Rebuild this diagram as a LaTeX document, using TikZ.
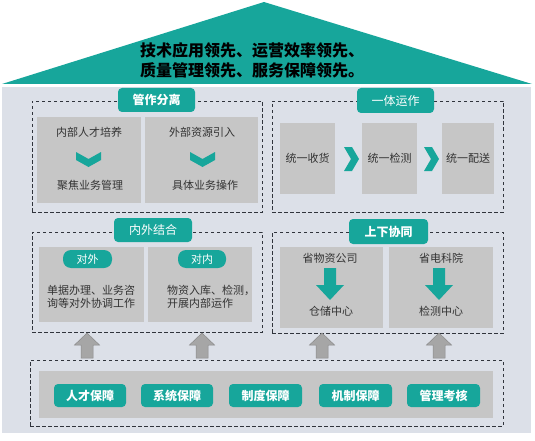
\documentclass[tikz,border=0pt]{standalone}
\usepackage{fontspec}
\setmainfont{Noto Sans CJK SC}
\definecolor{tealc}{HTML}{17A69B}
\definecolor{bodybg}{HTML}{DCE0E8}
\definecolor{boxgray}{HTML}{C6C6C6}
\definecolor{txtgray}{HTML}{333333}
\definecolor{dashc}{HTML}{30343C}
\definecolor{arrgray}{HTML}{A6A6A6}
\definecolor{arrline}{HTML}{8A8A8A}
\tikzset{
  grayblock/.style={fill=boxgray, draw=none, inner sep=0pt},
  dashbox/.style={draw=dashc, line width=0.9pt, dash pattern=on 3.5pt off 2.5pt, inner sep=0pt},
  pill/.style={fill=tealc, rounded corners=4pt, text=white, inner sep=0pt, font=\fontsize{12}{14}\selectfont\bfseries},
  pilllight/.style={pill, font=\fontsize{12}{14}\selectfont},
  smallpill/.style={fill=tealc, rounded corners=8pt, text=white, inner sep=0pt, font=\fontsize{11}{13}\selectfont},
  boxtxt/.style={text=txtgray, inner sep=0pt, font=\fontsize{11}{13}\selectfont},
  chev/.style={fill=tealc, draw=none},
  uparr/.style={fill=arrgray, draw=arrline, line width=0.5pt},
}
\begin{document}
\begin{tikzpicture}[x=1pt,y=-1pt]
\useasboundingbox (0,0) rectangle (535,441);
% roof and body
\fill[tealc] (2,84) -- (264,2) -- (532,84) -- cycle;
\fill[bodybg] (2,87) rectangle (531,433);
\node[inner sep=0pt, align=center, font=\fontsize{16}{20}\selectfont\bfseries, text=black] (roof) at (252,60)
  {技术应用领先、运营效率领先、\\质量管理领先、服务保障领先。};

% ---------- top left: 管作分离 ----------
\node[dashbox, minimum width=230pt, minimum height=111pt] (dTL) at (147,156.5) {};
\node[grayblock, minimum width=104pt, minimum height=86pt] (bL1) at (89,160) {};
\node[grayblock, minimum width=113pt, minimum height=86pt] (bL2) at (201.5,160) {};
\node[pill, minimum width=77pt, minimum height=24pt] (pTL) at (156.5,100) {管作分离};
\node[boxtxt] (t11) at (89,132) {内部人才培养};
\node[boxtxt] (t12) at (90,185) {聚焦业务管理};
\node[boxtxt] (t21) at (202,132) {外部资源引入};
\node[boxtxt] (t22) at (205,185) {具体业务操作};
\fill[chev] (76,152) -- (88.5,159) -- (101,152) -- (101,160) -- (88.5,167) -- (76,160) -- cycle;
\fill[chev] (190,152) -- (202.5,159) -- (215,152) -- (215,160) -- (202.5,167) -- (190,160) -- cycle;

% ---------- top right: 一体运作 ----------
\node[dashbox, minimum width=231pt, minimum height=111pt] (dTR) at (387.5,156.5) {};
\node[grayblock, minimum width=55pt, minimum height=71pt] (bR1) at (307.5,158.5) {};
\node[grayblock, minimum width=55pt, minimum height=71pt] (bR2) at (389.5,158.5) {};
\node[grayblock, minimum width=52pt, minimum height=71pt] (bR3) at (468,158.5) {};
\node[pilllight, minimum width=77pt, minimum height=25pt] (pTR) at (395.5,100.5) {一体运作};
\node[boxtxt] (r1) at (bR1) {统一收货};
\node[boxtxt] (r2) at (bR2) {统一检测};
\node[boxtxt] (r3) at (bR3) {统一配送};
\fill[chev] (344,147) -- (352,147) -- (359,159) -- (352,171) -- (344,171) -- (351,159) -- cycle;
\fill[chev] (424,147) -- (432,147) -- (439,159) -- (432,171) -- (424,171) -- (431,159) -- cycle;

% ---------- middle left: 内外结合 ----------
\node[dashbox, minimum width=230pt, minimum height=100pt] (dML) at (147,282) {};
\node[grayblock, minimum width=105pt, minimum height=75pt] (bM1) at (91.5,284.5) {};
\node[grayblock, minimum width=104pt, minimum height=75pt] (bM2) at (200,284.5) {};
\node[pilllight, minimum width=78pt, minimum height=24pt] (pML) at (153,230) {内外结合};
\node[smallpill, minimum width=49pt, minimum height=18pt] (sp1) at (87.5,259) {对外};
\node[smallpill, minimum width=48pt, minimum height=18pt] (sp2) at (202,259) {对内};
\node[boxtxt, anchor=west, align=left] (m1) at (47,296.5) {单据办理、业务咨\\询等对外协调工作};
\node[boxtxt, anchor=west, align=left] (m2) at (167,296.5) {物资入库、检测，\\开展内部运作};

% ---------- middle right: 上下协同 ----------
\node[dashbox, minimum width=231pt, minimum height=101pt] (dMR) at (387.5,282.5) {};
\node[grayblock, minimum width=103pt, minimum height=81pt] (bN1) at (331.5,287.5) {};
\node[grayblock, minimum width=104pt, minimum height=81pt] (bN2) at (441,287.5) {};
\node[pill, minimum width=79pt, minimum height=25pt] (pMR) at (388.5,231.5) {上下协同};
\node[boxtxt] (n11) at (330,258) {省物资公司};
\node[boxtxt] (n12) at (331,311) {仓储中心};
\node[boxtxt] (n21) at (441,258) {省电科院};
\node[boxtxt] (n22) at (441,311) {检测中心};
\fill[chev] (324,268) -- (336,268) -- (336,285) -- (344,285) -- (330,300) -- (316,285) -- (324,285) -- cycle;
\fill[chev] (433,268) -- (445,268) -- (445,285) -- (453,285) -- (439,300) -- (425,285) -- (433,285) -- cycle;

% ---------- up arrows ----------
\foreach \ax in {87,202,322,439}{
  \filldraw[uparr] (\ax-6,358) -- (\ax-6,345) -- (\ax-12.5,345) -- (\ax,333) -- (\ax+12.5,345) -- (\ax+6,345) -- (\ax+6,358) -- cycle;
}

% ---------- bottom ----------
\node[dashbox, minimum width=473pt, minimum height=66pt] (dB) at (266.5,393) {};
\node[grayblock, minimum width=454pt, minimum height=47pt] (bB) at (266,394.5) {};
\node[pill, minimum width=72pt, minimum height=23pt] (q1) at (90,395.5) {人才保障};
\node[pill, minimum width=72pt, minimum height=23pt] (q2) at (177,395.5) {系统保障};
\node[pill, minimum width=73pt, minimum height=23pt] (q3) at (265.5,395.5) {制度保障};
\node[pill, minimum width=73pt, minimum height=23pt] (q4) at (355.5,395.5) {机制保障};
\node[pill, minimum width=73pt, minimum height=23pt] (q5) at (443.5,395.5) {管理考核};
\end{tikzpicture}
\end{document}
